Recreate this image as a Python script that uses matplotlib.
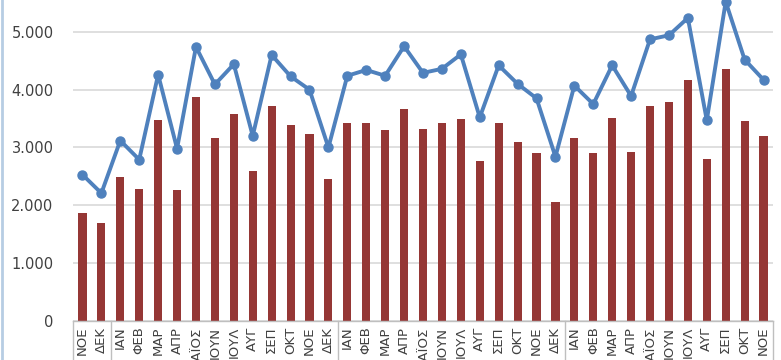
import matplotlib.pyplot as plt
import matplotlib.transforms as mtransforms
from matplotlib.ticker import FuncFormatter
from matplotlib.lines import Line2D
import numpy as np

months = ["ΝΟΕ", "ΔΕΚ",
          "ΙΑΝ", "ΦΕΒ", "ΜΑΡ", "ΑΠΡ", "ΜΑΪΟΣ", "ΙΟΥΝ", "ΙΟΥΛ", "ΑΥΓ", "ΣΕΠ", "ΟΚΤ", "ΝΟΕ", "ΔΕΚ",
          "ΙΑΝ", "ΦΕΒ", "ΜΑΡ", "ΑΠΡ", "ΜΑΪΟΣ", "ΙΟΥΝ", "ΙΟΥΛ", "ΑΥΓ", "ΣΕΠ", "ΟΚΤ", "ΝΟΕ", "ΔΕΚ",
          "ΙΑΝ", "ΦΕΒ", "ΜΑΡ", "ΑΠΡ", "ΜΑΪΟΣ", "ΙΟΥΝ", "ΙΟΥΛ", "ΑΥΓ", "ΣΕΠ", "ΟΚΤ", "ΝΟΕ"]

bar_values = [1860, 1700,
              2490, 2290, 3480, 2270, 3880, 3160, 3580, 2590, 3710, 3390, 3240, 2460,
              3420, 3430, 3310, 3660, 3320, 3430, 3490, 2770, 3430, 3090, 2910, 2050,
              3170, 2910, 3510, 2920, 3710, 3780, 4160, 2800, 4360, 3450, 3190]

line_values = [2530, 2210,
               3120, 2790, 4260, 2980, 4740, 4090, 4440, 3200, 4600, 4230, 4000, 3000,
               4240, 4340, 4240, 4750, 4290, 4360, 4610, 3520, 4420, 4100, 3850, 2840,
               4070, 3750, 4420, 3890, 4870, 4940, 5240, 3470, 5520, 4520, 4170]

# year boundaries (between categories)
separators = [-0.5, 1.5, 13.5, 25.5, 36.5]

fig = plt.figure(figsize=(7.81, 3.6), dpi=100)
ax = fig.add_axes([73 / 781, 39 / 360, 700 / 781, 321 / 360])

x = np.arange(len(months))
ax.bar(x, bar_values, width=0.43, color="#953735", zorder=2)
ax.plot(x, line_values, color="#4F81BD", linewidth=2.8, marker="o",
        markersize=6.5, zorder=3)

ax.set_xlim(-0.5, len(months) - 0.5)
ax.set_ylim(0, 5550)
ax.set_yticks(range(0, 5001, 1000))
ax.yaxis.set_major_formatter(FuncFormatter(lambda v, p: f"{int(v):,}".replace(",", ".")))
ax.grid(axis="y", color="#D9D9D9", linewidth=1.2, zorder=0)

for s in ["top", "right", "left"]:
    ax.spines[s].set_visible(False)
ax.spines["bottom"].set_color("#BFBFBF")
ax.spines["bottom"].set_linewidth(1.0)

ax.tick_params(axis="y", length=0, pad=14, labelsize=10.5, labelcolor="#404040")
ax.set_xticks(x)
ax.set_xticklabels(months, rotation=90, fontsize=9.5, color="#404040")
ax.tick_params(axis="x", length=0, pad=4)

trans = mtransforms.blended_transform_factory(ax.transData, ax.transAxes)
for s in separators:
    ax.add_line(Line2D([s, s], [0, -0.2], transform=trans, color="#BFBFBF",
                       linewidth=1.0, clip_on=False))

# thin border on the left of the picture
fig.add_artist(Line2D([0.002, 0.002], [0, 1], transform=fig.transFigure,
                      color="#B7CDE3", linewidth=2))

fig.savefig("out.png", dpi=100)
